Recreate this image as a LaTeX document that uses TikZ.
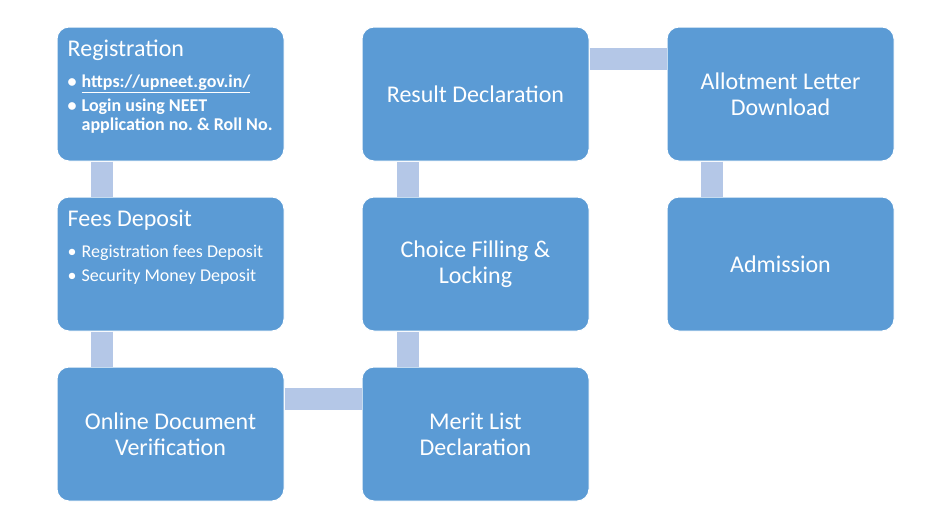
\documentclass[tikz,border=0pt]{standalone}
\usepackage{fontspec}
\setmainfont{Carlito}
\usetikzlibrary{positioning}
\definecolor{cStep}{HTML}{5B9BD5}
\definecolor{cLink}{HTML}{B4C7E7}
\tikzset{
  stepbox/.style={draw=white,fill=cStep,rounded corners=12pt,line width=1pt,minimum width=227pt,minimum height=134pt,align=center,font=\fontsize{24}{26}\selectfont,text=white,inner sep=4pt},
  link/.style={draw=cLink,line width=22pt},
  head/.style={font=\fontsize{24}{26}\selectfont,text=white,inner sep=0pt},
  items/.style={font=\fontsize{18}{19.5}\selectfont,text=white,inner sep=0pt,align=left},
}
\begin{document}
\begin{tikzpicture}[x=1pt,y=-1pt]
  \useasboundingbox (0,0) rectangle (936,528);
  % steps
  \node[stepbox] (reg) at (170.5,94) {};
  \node[stepbox,below=35pt of reg] (fee) {};
  \node[stepbox,below=35pt of fee] (doc) {Online Document\\Verification};
  \node[stepbox,right=77pt of doc] (mer) {Merit List\\Declaration};
  \node[stepbox,above=35pt of mer] (cho) {Choice Filling \&\\Locking};
  \node[stepbox,above=35pt of cho] (res) {Result Declaration};
  \node[stepbox,right=77pt of res] (alt) {Allotment Letter\\Download};
  \node[stepbox,below=35pt of alt] (adm) {Admission};
  % texts of the first two steps
  \node[head,anchor=base west] (regHead) at ([xshift=11pt,yshift=-30pt]reg.north west) {Registration};
  \node[items,anchor=base west,font=\fontsize{18}{19.5}\selectfont\bfseries] (regList) at ([xshift=11pt,yshift=-61pt]reg.north west)
    {\begin{tabular}[t]{@{}l@{\hspace{5pt}}l@{}}
      \textbullet & \underline{https://upneet.gov.in/}\\[4pt]
      \textbullet & Login using NEET\\
                  & application no.\ \& Roll No.
     \end{tabular}};
  \node[head,anchor=base west] (feeHead) at ([xshift=11pt,yshift=-30pt]fee.north west) {Fees Deposit};
  \node[items,anchor=base west] (feeList) at ([xshift=11pt,yshift=-61pt]fee.north west)
    {\begin{tabular}[t]{@{}l@{\hspace{5pt}}l@{}}
      \textbullet & Registration fees Deposit\\[4pt]
      \textbullet & Security Money Deposit
     \end{tabular}};
  % links
  \draw[link] ([xshift=45pt]reg.south west) -- ([xshift=45pt]fee.north west);
  \draw[link] ([xshift=45pt]fee.south west) -- ([xshift=45pt]doc.north west);
  \draw[link] ([yshift=-32pt]doc.north east) -- ([yshift=-32pt]mer.north west);
  \draw[link] ([xshift=46pt]mer.north west) -- ([xshift=46pt]cho.south west);
  \draw[link] ([xshift=46pt]cho.north west) -- ([xshift=46pt]res.south west);
  \draw[link] ([yshift=-32pt]res.north east) -- ([yshift=-32pt]alt.north west);
  \draw[link] ([xshift=45pt]alt.south west) -- ([xshift=45pt]adm.north west);
\end{tikzpicture}
\end{document}
